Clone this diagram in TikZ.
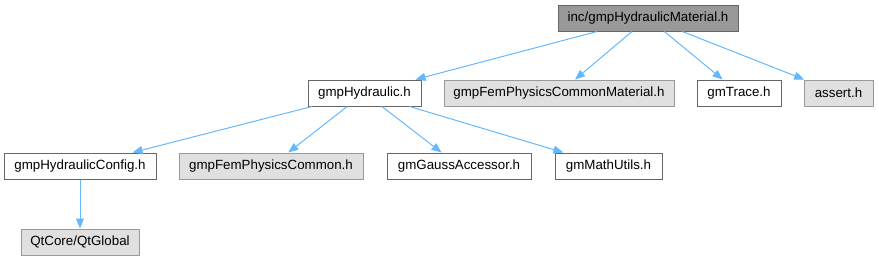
\documentclass[tikz,border=0pt]{standalone}
\usepackage{fontspec}
\setmainfont{Liberation Sans}
\usepackage{tikz}
\usetikzlibrary{arrows.meta}
\definecolor{edgeblue}{RGB}{99,184,255}
\definecolor{rootgray}{RGB}{153,153,153}
\definecolor{extgray}{RGB}{224,224,224}
\definecolor{lineg}{RGB}{102,102,102}
\tikzstyle{hdr}=[rectangle, inner sep=0pt, minimum height=19.5pt, draw=lineg,
  fill=white, line width=0.75pt, font=\fontsize{10}{12}\selectfont, text centered]
\tikzstyle{root}=[hdr, fill=rootgray, draw=lineg]
\tikzstyle{ext}=[hdr, fill=extgray, draw=rootgray]
\tikzstyle{inc}=[-{Triangle[length=7.5pt, width=6pt]}, line width=0.75pt, color=edgeblue]

\begin{document}
\begin{tikzpicture}[x=0.75pt, y=-0.75pt]
  \useasboundingbox (0,0) rectangle (879,261);
  \node[root, minimum width=135pt] (mat) at (648,18) {inc/gmpHydraulicMaterial.h};
  % second row
  \node[hdr, minimum width=84.75pt] (hyd) at (364.5,93) {gmpHydraulic.h};
  \node[ext, minimum width=172.5pt] (femmat) at (559,93) {gmpFemPhysicsCommonMaterial.h};
  \node[hdr, minimum width=63pt] (trace) at (739,93) {gmTrace.h};
  \node[ext, minimum width=51.75pt] (assert) at (838.5,93) {assert.h};
  % third row
  \node[hdr, minimum width=114pt] (cfg) at (80,166) {gmpHydraulicConfig.h};
  \node[ext, minimum width=138pt] (femcom) at (271,166) {gmpFemPhysicsCommon.h};
  \node[hdr, minimum width=108pt] (gauss) at (459,166) {gmGaussAccessor.h};
  \node[hdr, minimum width=80.25pt] (math) at (608.5,166) {gmMathUtils.h};
  \node[ext, minimum width=88.5pt] (qt) at (80,242) {QtCore/QtGlobal};
  \draw[inc] (mat)--(hyd);
  \draw[inc] (mat)--(femmat);
  \draw[inc] (mat)--(trace);
  \draw[inc] (mat)--(assert);
  \draw[inc] (hyd)--(cfg);
  \draw[inc] (hyd)--(femcom);
  \draw[inc] (hyd)--(gauss);
  \draw[inc] (hyd)--(math);
  \draw[inc] (cfg)--(qt);
\end{tikzpicture}
\end{document}
